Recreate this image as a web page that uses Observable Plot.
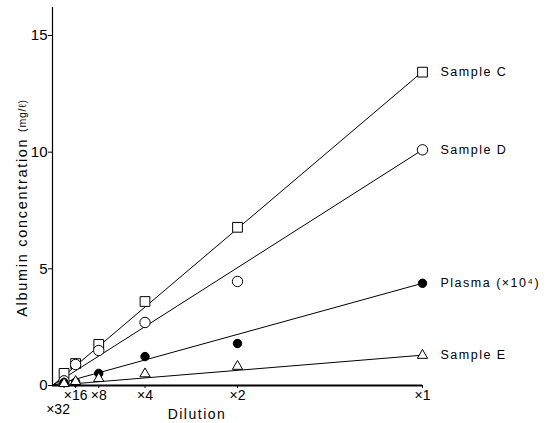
<!DOCTYPE html>
<html>
<head>
<meta charset="utf-8">
<script src="https://cdn.jsdelivr.net/npm/d3@7"></script>
<script src="https://cdn.jsdelivr.net/npm/@observablehq/plot@0.6"></script>
<style>
  html, body { margin: 0; padding: 0; background: #fff; }
  #chart svg { display: block; }
</style>
</head>
<body>
<div id="chart"></div>
<script>
const dilutionLabels = ["×32", "×16", "×8", "×4", "×2", "×1"];
const dilutionFactor = [32, 16, 8, 4, 2, 1];
const seriesNames = ["Sample C", "Sample D", "Plasma (×10⁴)", "Sample E"];
const sampleC = [0.52, 0.94, 1.76, 3.6, 6.78, 13.43];
const sampleD = [0.2, 0.9, 1.5, 2.7, 4.46, 10.1];
const plasma  = [0.13, 0.15, 0.52, 1.24, 1.8, 4.38];
const sampleE = [0.08, 0.17, 0.3, 0.5, 0.82, 1.29];
const fitSlopes = [13.45, 10.1, 4.38, 1.3];
const yTicks = [0, 5, 10, 15];
const yLabel = "Albumin concentration";
const yUnit = "(mg/ℓ)";
const xLabel = "Dilution";

const seriesValues = [sampleC, sampleD, plasma, sampleE];
const symbols = ["square", "circle", "circle", "triangle"];
const fills = ["white", "white", "black", "white"];
const radii = [5.5, 5.2, 4.2, 3.8];

const fits = [];
fitSlopes.forEach((k, s) => { fits.push({s, x: 0, y: 0}); fits.push({s, x: 1, y: k}); });
const ends = seriesNames.map((name, s) => ({name, x: 1, y: seriesValues[s][seriesValues[s].length - 1]}));
const xt = dilutionLabels.map((label, i) => ({label, x: 1 / dilutionFactor[i], low: i === 0}));

const dotMarks = seriesValues.map((vals, s) =>
  Plot.dot(vals.map((v, i) => ({x: 1 / dilutionFactor[i], y: v})), {
    x: "x", y: "y", symbol: symbols[s], fill: fills[s], r: radii[s], stroke: "black", strokeWidth: 1
  }));

const plot = Plot.plot({
  width: 548,
  height: 423,
  marginLeft: 52,
  marginRight: 126,
  marginTop: 7,
  marginBottom: 38,
  style: {fontFamily: "'Liberation Sans', Arial, sans-serif", background: "white"},
  x: {type: "linear", domain: [0, 1], axis: null},
  y: {type: "linear", domain: [0, 16.2], axis: null},
  marks: [
    Plot.ruleX([0], {stroke: "black", strokeWidth: 1.2}),
    Plot.ruleY([0], {stroke: "black", strokeWidth: 2.2}),
    Plot.axisY({ticks: yTicks, tickSize: 4, tickPadding: 1, fontSize: 15, tickFormat: d => d, label: null}),
    Plot.axisX({ticks: xt.map(d => d.x), tickSize: 3, tickFormat: () => "", label: null}),
    Plot.text(xt.filter(d => !d.low), {x: "x", y: 0, text: "label", dy: 5, lineAnchor: "top", fontSize: 14}),
    Plot.text(xt.filter(d => d.low), {x: "x", y: 0, text: "label", dy: 19, dx: -6, lineAnchor: "top", fontSize: 14}),
    Plot.line(fits, {x: "x", y: "y", z: "s", stroke: "black", strokeWidth: 1}),
    ...dotMarks,
    Plot.text(ends, {x: "x", y: "y", text: "name", dx: 18, textAnchor: "start", fontSize: 12.5, fill: "black"})
  ]
});
d3.select("#chart").node().append(plot);

const svg = d3.select(plot);
svg.selectAll("text").filter(function() { return seriesNames.includes(this.textContent); })
  .style("letter-spacing", "1.5px");

const yt = svg.append("text")
  .attr("transform", "translate(23,208) rotate(-90)")
  .attr("text-anchor", "middle")
  .attr("dominant-baseline", "middle")
  .attr("font-family", "'Liberation Sans', Arial, sans-serif")
  .attr("font-size", 14.5)
  .style("letter-spacing", "1.7px")
  .attr("fill", "black");
yt.append("tspan").text(yLabel + " ");
yt.append("tspan").attr("font-size", 10.5).style("letter-spacing", "0.8px").text(yUnit);

svg.append("text")
  .attr("x", 197).attr("y", 419)
  .attr("text-anchor", "middle")
  .attr("font-family", "'Liberation Sans', Arial, sans-serif")
  .attr("font-size", 14)
  .style("letter-spacing", "1.5px")
  .attr("fill", "black")
  .text(xLabel);
</script>
</body>
</html>
